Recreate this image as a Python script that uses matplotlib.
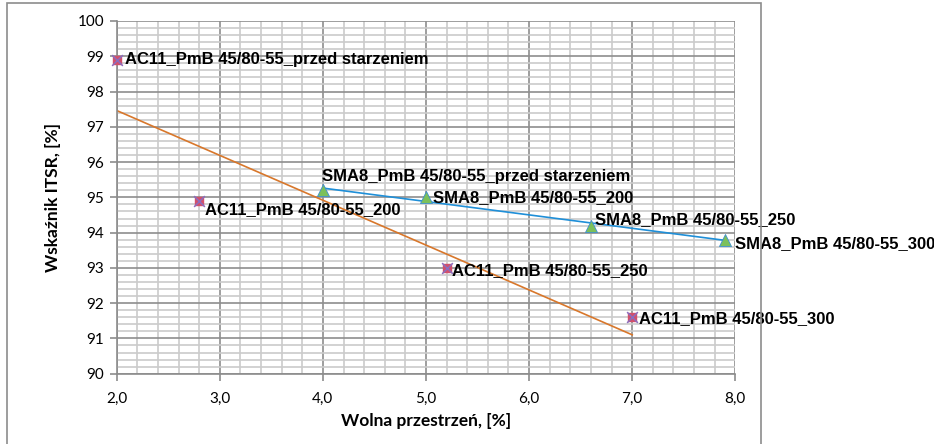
import numpy as np
import matplotlib
matplotlib.use("Agg")
import matplotlib.pyplot as plt
from matplotlib.patches import Rectangle
from matplotlib.ticker import MultipleLocator, FuncFormatter

# Data
ac11_x = [2.0, 2.8, 5.2, 7.0]
ac11_y = [98.9, 94.9, 93.0, 91.6]
ac11_labels = ["AC11_PmB 45/80-55_przed starzeniem", "AC11_PmB 45/80-55_200",
               "AC11_PmB 45/80-55_250", "AC11_PmB 45/80-55_300"]
sma_x = [4.0, 5.0, 6.6, 7.9]
sma_y = [95.2, 95.0, 94.2, 93.8]
sma_labels = ["SMA8_PmB 45/80-55_przed starzeniem", "SMA8_PmB 45/80-55_200",
              "SMA8_PmB 45/80-55_250", "SMA8_PmB 45/80-55_300"]
x_label = "Wolna przestrzeń, [%]"
y_label = "Wskaźnik ITSR, [%]"

fig = plt.figure(figsize=(9.34, 4.44), dpi=100)
ax = fig.add_axes([116.7/934, 1-373.7/444, (735.3-116.7)/934, (373.7-21)/444])

# chart-area border
fig.patches.append(Rectangle((7/934, -0.1), (761-7)/934, 1.1-3/444, transform=fig.transFigure,
                             fill=False, edgecolor="#8C8C8C", linewidth=1.2))

ax.set_xlim(2.0, 8.0)
ax.set_ylim(90, 100)
ax.xaxis.set_major_locator(MultipleLocator(1.0))
ax.xaxis.set_minor_locator(MultipleLocator(0.2))
ax.yaxis.set_major_locator(MultipleLocator(1.0))
ax.yaxis.set_minor_locator(MultipleLocator(0.2))
ax.grid(which="minor", color="#CBCBCB", linewidth=1.2, zorder=0)
ax.grid(which="major", color="#8E8E8E", linewidth=1.2, zorder=0)
ax.set_axisbelow(True)
for s in ["top", "right"]:
    ax.spines[s].set_visible(False)
for s in ["left", "bottom"]:
    ax.spines[s].set_color("#8C8C8C")
    ax.spines[s].set_linewidth(1.2)
ax.tick_params(which="minor", length=0)
ax.tick_params(which="major", length=5, color="#8C8C8C", width=1.2, labelsize=11,
               labelcolor="#000000")
ax.tick_params(axis="x", pad=8)
ax.tick_params(axis="y", pad=4)
ax.xaxis.set_major_formatter(FuncFormatter(lambda v, p: f"{v:.1f}".replace(".", ",")))
ax.yaxis.set_major_formatter(FuncFormatter(lambda v, p: f"{v:.0f}"))
for lab in ax.get_xticklabels() + ax.get_yticklabels():
    lab.set_fontfamily("Lato")

ax.set_xlabel(x_label, fontsize=12.5, fontweight="bold", family="Lato", labelpad=5)
ax.set_ylabel(y_label, fontsize=12.5, fontweight="bold", family="Lato", labelpad=12)

# trendlines
k1, b1 = np.polyfit(ac11_x, ac11_y, 1)
xx1 = np.array([min(ac11_x), max(ac11_x)])
ax.plot(xx1, k1*xx1 + b1, color="#D8772B", linewidth=1.2, zorder=2)
k2, b2 = np.polyfit(sma_x, sma_y, 1)
xx2 = np.array([min(sma_x), max(sma_x)])
ax.plot(xx2, k2*xx2 + b2, color="#1F8FD8", linewidth=1.2, zorder=2)

# markers
ax.scatter(ac11_x, ac11_y, marker="s", s=32, color="#D2506C", zorder=4, clip_on=False)
ax.scatter(ac11_x, ac11_y, marker="x", s=60, color="#8A6DBE", linewidths=1.1, zorder=5, clip_on=False)
ax.scatter(sma_x, sma_y, marker="^", s=75, color="#7CC05A", edgecolors="#3D8FD0",
           linewidths=0.6, zorder=4, clip_on=False)

lab_kw = dict(fontsize=12, fontweight="bold", family="Liberation Sans",
              textcoords="offset points", va="center", ha="left", zorder=6)
ac_off = [(6, 0), (4, -6), (4, -2), (5, -1)]
for x, y, t, o in zip(ac11_x, ac11_y, ac11_labels, ac_off):
    ax.annotate(t, (x, y), xytext=o, **lab_kw)
sma_off = [(-1, 10), (5, 0), (3, 4), (7, -3)]
for x, y, t, o in zip(sma_x, sma_y, sma_labels, sma_off):
    ax.annotate(t, (x, y), xytext=o, **lab_kw)

fig.savefig("out.png", dpi=100)
